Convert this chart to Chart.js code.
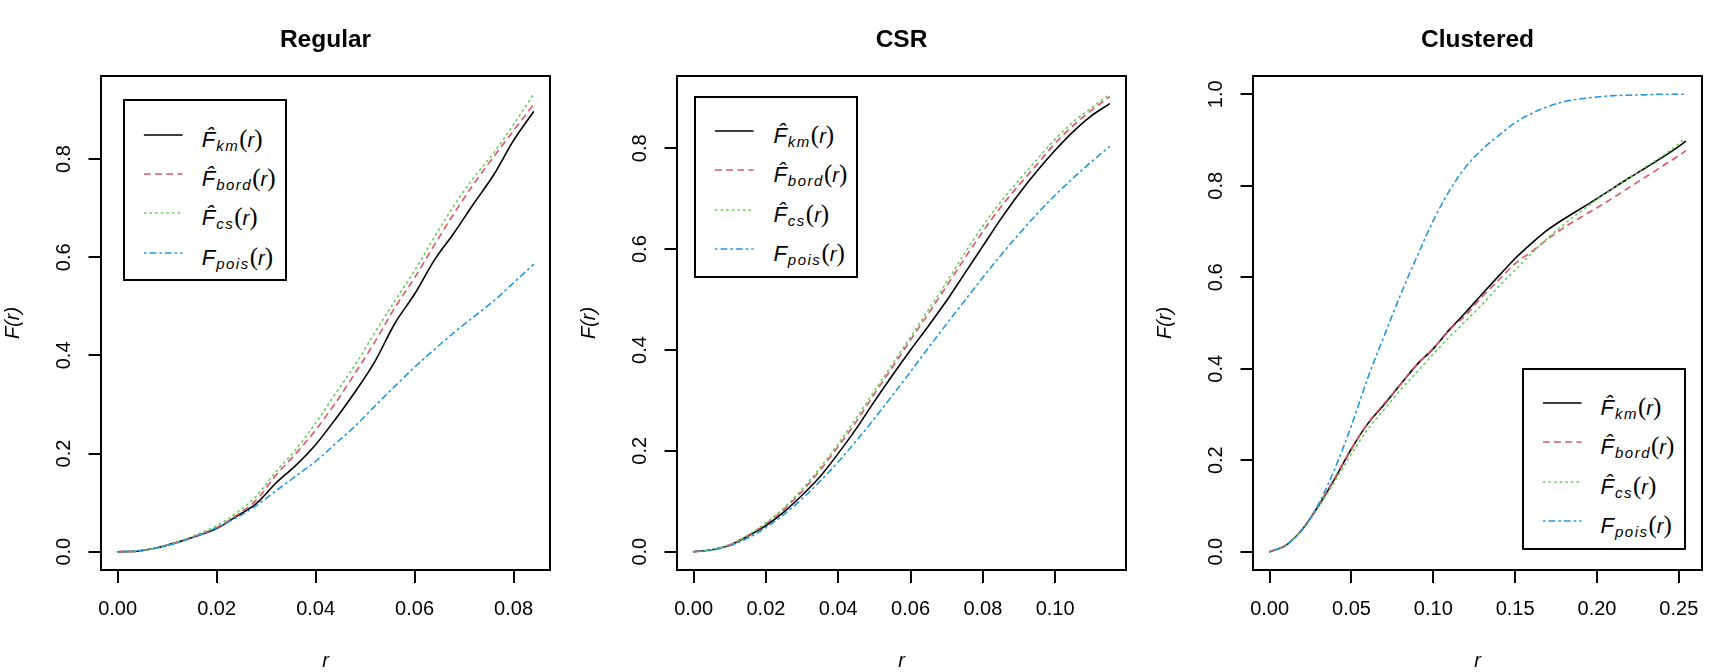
<!DOCTYPE html>
<html>
<head>
<meta charset="utf-8">
<title>Empty space function F(r)</title>
<script src="https://cdn.jsdelivr.net/npm/chart.js@4.4.1/dist/chart.umd.min.js"></script>
<style>
  html, body { margin: 0; padding: 0; background: #fff; }
  #page { position: relative; width: 1728px; height: 672px; overflow: hidden; }
  #page canvas { position: absolute; top: 0; }
  .legend { position: absolute; box-sizing: border-box; width: 164px; height: 182px; border: 2px solid #000; background: #fff;
            font-family: 'Liberation Sans', Arial, sans-serif; color: #000; }
  .legend .row { position: absolute; left: 0; right: 0; height: 30px; }
  .legend svg { position: absolute; left: 17px; top: 10px; }
  .legend .lab { position: absolute; left: 77px; top: 4px; line-height: 30px; white-space: nowrap; font-size: 22px; }
  .lab .f { font-style: italic; }
  .lab .sub { font-style: italic; font-size: 15px; letter-spacing: 1.5px; position: relative; top: 4px; margin-left: 1px; }
  .lab .par { font-family: 'Liberation Serif', 'Times New Roman', serif; font-size: 25px; }
  .lab .r { font-style: italic; font-size: 20px; }
</style>
</head>
<body>
<div id="page"></div>
<script>
// ---- data ----
// Regular
const regR    = [0, 0.004, 0.008, 0.012, 0.016, 0.020, 0.024, 0.028, 0.032, 0.036, 0.040, 0.044, 0.048, 0.052, 0.056, 0.060, 0.064, 0.068, 0.072, 0.076, 0.080, 0.084];
const regKm   = [0, 0.001, 0.008, 0.019, 0.032, 0.047, 0.072, 0.098, 0.140, 0.176, 0.218, 0.270, 0.326, 0.388, 0.465, 0.525, 0.594, 0.650, 0.710, 0.768, 0.838, 0.896];
const regBord = [0, 0.001, 0.008, 0.019, 0.033, 0.049, 0.074, 0.105, 0.156, 0.200, 0.248, 0.303, 0.364, 0.428, 0.497, 0.558, 0.625, 0.690, 0.750, 0.805, 0.858, 0.911];
const regCs   = [0, 0.001, 0.008, 0.020, 0.035, 0.053, 0.079, 0.113, 0.163, 0.208, 0.262, 0.322, 0.381, 0.447, 0.511, 0.573, 0.641, 0.706, 0.763, 0.813, 0.870, 0.932];
const regPois = [0, 0.002, 0.008, 0.018, 0.032, 0.049, 0.069, 0.094, 0.124, 0.154, 0.184, 0.220, 0.256, 0.297, 0.337, 0.376, 0.412, 0.447, 0.479, 0.511, 0.548, 0.585];

// CSR
const csrR    = [0, 0.005, 0.010, 0.015, 0.020, 0.025, 0.030, 0.035, 0.040, 0.045, 0.050, 0.055, 0.060, 0.065, 0.070, 0.075, 0.080, 0.085, 0.090, 0.095, 0.100, 0.105, 0.110, 0.115];
const csrKm   = [0, 0.004, 0.013, 0.031, 0.052, 0.079, 0.112, 0.149, 0.195, 0.244, 0.298, 0.350, 0.400, 0.448, 0.498, 0.552, 0.606, 0.660, 0.710, 0.755, 0.796, 0.833, 0.864, 0.888];
const csrBord = [0, 0.004, 0.014, 0.032, 0.055, 0.084, 0.120, 0.162, 0.209, 0.258, 0.313, 0.366, 0.420, 0.473, 0.527, 0.582, 0.635, 0.684, 0.727, 0.768, 0.810, 0.845, 0.875, 0.902];
const csrCs   = [0, 0.004, 0.014, 0.033, 0.057, 0.087, 0.124, 0.167, 0.214, 0.265, 0.319, 0.372, 0.426, 0.480, 0.535, 0.592, 0.646, 0.694, 0.737, 0.778, 0.818, 0.852, 0.880, 0.907];
const csrPois = [0, 0.003, 0.012, 0.027, 0.048, 0.074, 0.105, 0.140, 0.178, 0.220, 0.264, 0.310, 0.357, 0.405, 0.452, 0.498, 0.544, 0.588, 0.630, 0.670, 0.707, 0.741, 0.773, 0.803];

// Clustered
const cluR    = [0, 0.01, 0.02, 0.03, 0.04, 0.05, 0.06, 0.07, 0.08, 0.09, 0.10, 0.11, 0.12, 0.13, 0.14, 0.15, 0.16, 0.17, 0.18, 0.19, 0.20, 0.21, 0.22, 0.23, 0.24, 0.25, 0.254];
const cluKm   = [0, 0.014, 0.049, 0.101, 0.161, 0.225, 0.280, 0.322, 0.366, 0.409, 0.444, 0.486, 0.524, 0.564, 0.603, 0.641, 0.674, 0.704, 0.728, 0.750, 0.772, 0.795, 0.818, 0.840, 0.862, 0.886, 0.897];
const cluBord = [0, 0.015, 0.050, 0.103, 0.163, 0.226, 0.281, 0.324, 0.366, 0.410, 0.444, 0.485, 0.518, 0.558, 0.594, 0.630, 0.656, 0.684, 0.709, 0.731, 0.752, 0.774, 0.797, 0.820, 0.843, 0.866, 0.876];
const cluCs   = [0, 0.014, 0.048, 0.098, 0.155, 0.214, 0.268, 0.311, 0.354, 0.393, 0.432, 0.470, 0.505, 0.541, 0.580, 0.616, 0.652, 0.686, 0.716, 0.744, 0.770, 0.794, 0.818, 0.842, 0.865, 0.892, 0.905];
const cluPois = [0, 0.015, 0.048, 0.105, 0.183, 0.276, 0.380, 0.472, 0.562, 0.645, 0.724, 0.790, 0.842, 0.880, 0.910, 0.938, 0.958, 0.973, 0.984, 0.990, 0.994, 0.997, 0.998, 0.999, 1.000, 1.000, 1.000];

// tick labels
const regXTicks = [0, 0.02, 0.04, 0.06, 0.08];
const csrXTicks = [0, 0.02, 0.04, 0.06, 0.08, 0.10];
const cluXTicks = [0, 0.05, 0.10, 0.15, 0.20, 0.25];
const yTicks08  = [0, 0.2, 0.4, 0.6, 0.8];
const yTicks10  = [0, 0.2, 0.4, 0.6, 0.8, 1.0];

const seriesKeys = ['km', 'bord', 'cs', 'pois'];
const seriesHat  = [true, true, true, false];

// R palette + lty 1..4
const COLORS = ['#000000', '#DF536B', '#61D04F', '#2297E6'];
const DASHES = [[], [5.6, 5.6], [1.4, 4.2], [1.4, 4.2, 5.6, 4.2]];

Chart.defaults.font.family = "'Liberation Sans', Arial, sans-serif";
Chart.defaults.color = '#000';

const page = document.getElementById('page');

// plot frame, like box() in R
const boxPlugin = {
  id: 'plotBox',
  afterDatasetsDraw(chart) {
    const { ctx, chartArea: a } = chart;
    ctx.save();
    ctx.lineWidth = 2;
    ctx.strokeStyle = '#000';
    ctx.strokeRect(a.left, a.top, a.right - a.left, a.bottom - a.top);
    ctx.restore();
  }
};

function makePanel(p) {
  const canvas = document.createElement('canvas');
  canvas.width = 651;
  canvas.height = 672;
  canvas.style.width = '651px';
  canvas.style.height = '672px';
  canvas.style.left = p.left + 'px';
  page.appendChild(canvas);

  const rmax = p.r[p.r.length - 1];
  const ymax = Math.max(...p.series.flat());

  const datasets = p.series.map((vals, i) => ({
    label: (seriesHat[i] ? 'F\u0302' : 'F') + seriesKeys[i] + '(r)',
    data: p.r.map((x, j) => ({ x, y: vals[j] })),
    borderColor: COLORS[i],
    borderWidth: 1.6,
    borderDash: DASHES[i],
    borderCapStyle: 'round',
    borderJoinStyle: 'round',
    pointRadius: 0,
    fill: false,
    cubicInterpolationMode: 'monotone',
    order: 3 - i
  }));

  const chart = new Chart(canvas, {
    type: 'line',
    data: { datasets },
    options: {
      responsive: false,
      animation: false,
      layout: { padding: 0 },
      plugins: {
        legend: { display: false },
        tooltip: { enabled: false },
        title: {
          display: true,
          text: p.title,
          color: '#000',
          font: { size: 24.5, weight: 'bold', lineHeight: 1.2 },
          padding: { top: 25.1, bottom: 21.5 }
        }
      },
      scales: {
        x: {
          type: 'linear',
          min: -0.04 * rmax,
          max: 1.04 * rmax,
          afterBuildTicks: s => { s.ticks = p.xTicks.map(v => ({ value: v })); },
          afterFit: s => { s.height = 102; },
          border: { display: false },
          grid: { drawOnChartArea: false, tickLength: 13, color: '#000', lineWidth: 2 },
          ticks: { color: '#000', font: { size: 20 }, minRotation: 0, maxRotation: 0, padding: 14.8,
                   autoSkip: false, callback: v => v.toFixed(2) },
          title: { display: true, text: 'r', color: '#000', font: { size: 20, style: 'italic', lineHeight: 1 },
                   padding: { top: 0, bottom: 0.6 } }
        },
        y: {
          type: 'linear',
          min: -0.04 * ymax,
          max: 1.04 * ymax,
          afterBuildTicks: s => { s.ticks = p.yTicks.map(v => ({ value: v })); },
          afterFit: s => { s.width = 101; },
          border: { display: false },
          grid: { drawOnChartArea: false, tickLength: 12.5, color: '#000', lineWidth: 2 },
          ticks: { color: '#000', font: { size: 20 }, minRotation: 90, maxRotation: 90, crossAlign: 'center',
                   padding: 9.8, autoSkip: false, callback: v => v.toFixed(1) },
          title: { display: true, text: 'F(r)', color: '#000', font: { size: 20, style: 'italic', lineHeight: 1.2 },
                   padding: { top: 1, bottom: 0 } }
        },
        // empty right margin so the title centres over the plot box
        yRight: {
          axis: 'y',
          position: 'right',
          display: true,
          grid: { display: false },
          border: { display: false },
          ticks: { display: false },
          afterFit: s => { s.width = 101; }
        }
      }
    },
    plugins: [boxPlugin]
  });

  buildLegend(chart, p.legend);
  return chart;
}

// html legend so the subscripts and hats stay real text
function buildLegend(chart, pos) {
  const box = document.createElement('div');
  box.className = 'legend';
  box.style.left = pos.left + 'px';
  box.style.top = pos.top + 'px';
  chart.data.datasets.forEach((ds, i) => {
    const row = document.createElement('div');
    row.className = 'row';
    row.style.top = (18.5 + i * 39.3) + 'px';
    const dash = ds.borderDash.length ? ds.borderDash.join(' ') : 'none';
    row.innerHTML =
      `<svg width="42" height="10"><line x1="2.5" y1="5" x2="40" y2="5" stroke="${ds.borderColor}" stroke-width="1.6" ` +
      `stroke-linecap="round" stroke-dasharray="${dash}"/></svg>` +
      `<span class="lab"><span class="f">${seriesHat[i] ? 'F\u0302' : 'F'}</span><span class="sub">${seriesKeys[i]}</span>` +
      `<span class="par">(</span><span class="r">r</span><span class="par">)</span></span>`;
    box.appendChild(row);
  });
  page.appendChild(box);
}

makePanel({ title: 'Regular', left: 0, r: regR, series: [regKm, regBord, regCs, regPois],
            xTicks: regXTicks, yTicks: yTicks08, legend: { left: 122.7, top: 99.3 } });
makePanel({ title: 'CSR', left: 576, r: csrR, series: [csrKm, csrBord, csrCs, csrPois],
            xTicks: csrXTicks, yTicks: yTicks08, legend: { left: 694.4, top: 95.7 } });
makePanel({ title: 'Clustered', left: 1152, r: cluR, series: [cluKm, cluBord, cluCs, cluPois],
            xTicks: cluXTicks, yTicks: yTicks10, legend: { left: 1521.5, top: 367.5 } });
</script>
</body>
</html>
